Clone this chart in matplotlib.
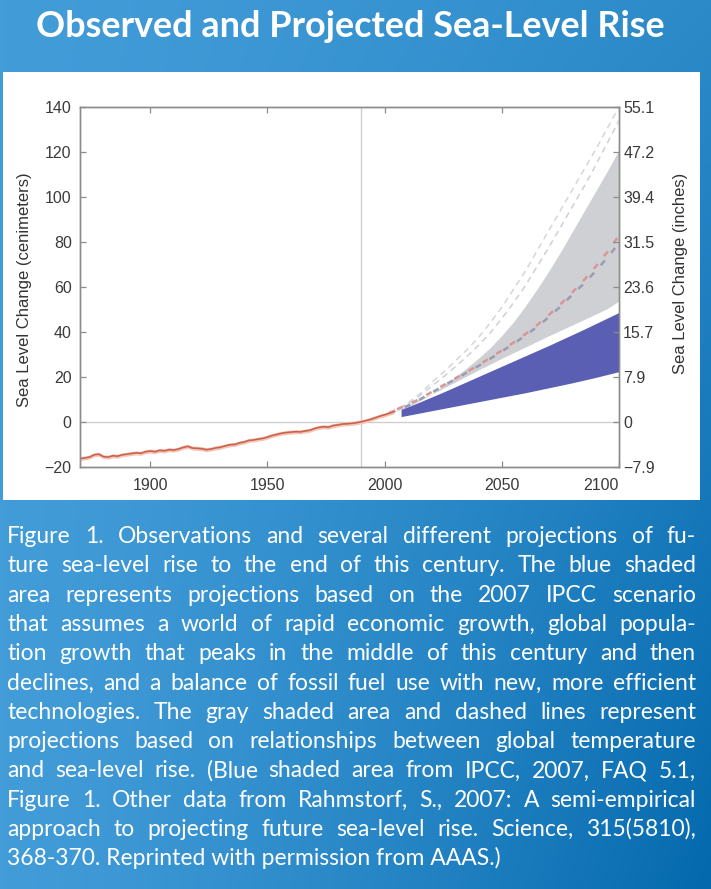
import matplotlib.pyplot as plt
import numpy as np
from matplotlib.patches import Rectangle

# Observed sea level change (cm)
obs_years = list(range(1870, 2005, 2))
obs_cm = [-16.2, -16.0, -15.6, -14.6, -14.3, -15.4, -15.6, -15.0, -15.2, -14.6,
          -14.3, -14.0, -13.7, -13.9, -13.2, -12.9, -13.2, -12.6, -12.8, -12.3,
          -12.5, -12.0, -11.3, -10.8, -11.6, -11.7, -11.9, -12.3, -12.0, -11.5,
          -11.2, -10.6, -10.1, -10.0, -9.3, -8.9, -8.2, -8.0, -7.6, -7.3,
          -6.7, -6.0, -5.5, -5.0, -4.7, -4.5, -4.3, -4.4, -4.0, -3.7,
          -2.9, -2.4, -2.1, -2.3, -1.6, -1.3, -0.9, -0.8, -0.6, -0.3,
          0.1, 0.6, 1.2, 1.9, 2.6, 3.2, 3.9, 4.6]

# Semi-empirical projections (cm)
proj_years = [2002, 2005, 2010, 2015, 2020, 2025, 2030, 2035, 2040, 2045, 2050,
              2055, 2060, 2065, 2070, 2075, 2080, 2085, 2090, 2095, 2100]
gray_upper = [4.0, 5.0, 7.5, 10.2, 12.5, 16.2, 20.0, 24.0, 28.3, 33.0, 38.5,
              44.5, 51.5, 59.0, 67.0, 75.5, 84.5, 93.5, 102.5, 111.5, 121.0]
gray_lower = [3.8, 4.8, 6.8, 9.5, 12.3, 15.0, 17.7, 20.4, 23.1, 25.7, 28.3,
              30.8, 33.3, 35.8, 38.3, 40.7, 43.1, 45.5, 47.9, 50.4, 53.8]
dash_outer_a = [4.3, 5.5, 8.5, 12.5, 17.5, 22.0, 27.0, 32.0, 37.5, 44.0, 51.0,
                59.0, 67.0, 76.0, 85.0, 94.0, 103.0, 112.0, 121.0, 130.5, 140.0]
dash_outer_b = [4.2, 5.3, 8.0, 11.8, 15.8, 20.0, 24.4, 29.0, 34.0, 39.5, 46.0,
                53.0, 60.5, 69.0, 77.5, 86.5, 95.5, 104.5, 114.0, 124.0, 134.0]
dash_mid_red = [4.3, 5.6, 7.6, 10.3, 13.3, 16.3, 19.3, 22.2, 25.2, 28.5, 31.8,
                35.3, 39.0, 43.0, 47.5, 52.3, 57.5, 63.0, 69.0, 75.5, 83.0]
dash_mid_gray = [4.1, 5.3, 7.3, 10.0, 13.0, 16.0, 19.0, 21.9, 24.9, 28.1, 31.4,
                 34.8, 38.4, 42.3, 46.6, 51.3, 56.5, 61.5, 67.0, 73.0, 79.5]

# IPCC 2007 A1B range (cm)
blue_years = [2007, 2010, 2015, 2020, 2025, 2030, 2035, 2040, 2045, 2050,
              2055, 2060, 2065, 2070, 2075, 2080, 2085, 2090, 2095, 2100]
blue_upper = [5.6, 6.8, 8.9, 11.1, 13.3, 15.6, 17.9, 20.2, 22.5, 24.8,
              27.1, 29.4, 31.7, 34.0, 36.4, 38.8, 41.2, 43.7, 46.2, 48.7]
blue_lower = [2.4, 3.0, 4.0, 5.0, 6.0, 7.0, 8.0, 9.0, 10.0, 11.0,
              12.0, 13.0, 14.1, 15.2, 16.3, 17.4, 18.6, 19.8, 21.1, 22.4]

cm_ticks = [-20, 0, 20, 40, 60, 80, 100, 120, 140]
year_ticks = [1900, 1950, 2000, 2050, 2100]

title = "Observed and Projected Sea-Level Rise"
caption = [
    "Figure 1. Observations and several different projections of fu-",
    "ture sea-level rise to the end of this century. The blue shaded",
    "area represents projections based on the 2007 IPCC scenario",
    "that assumes a world of rapid economic growth, global popula-",
    "tion growth that peaks in the middle of this century and then",
    "declines, and a balance of fossil fuel use with new, more efficient",
    "technologies. The gray shaded area and dashed lines represent",
    "projections based on relationships between global temperature",
    "and sea-level rise. (Blue shaded area from IPCC, 2007, FAQ 5.1,",
    "Figure 1. Other data from Rahmstorf, S., 2007: A semi-empirical",
    "approach to projecting future sea-level rise. Science, 315(5810),",
    "368-370. Reprinted with permission from AAAS.)",
]

W, H = 711, 889
fig = plt.figure(figsize=(W / 100, H / 100), dpi=100)

# blue gradient background
yy, xx = np.mgrid[0:1:200j, 0:1:200j]
t = np.clip(xx ** 1.3 * (0.35 + 0.65 * yy), 0, 1)[..., None]
c0 = np.array([0x42, 0x9c, 0xd8]) / 255
c1 = np.array([0x04, 0x69, 0xad]) / 255
bg = c0 * (1 - t) + c1 * t
ax_bg = fig.add_axes([0, 0, 1, 1], zorder=-10)
ax_bg.imshow(bg, extent=[0, 1, 0, 1], aspect="auto", origin="upper")
ax_bg.axis("off")

# white panel behind the chart
fig.patches.append(Rectangle((3 / W, 1 - 500 / H), 697 / W, 428 / H,
                             transform=fig.transFigure, facecolor="white",
                             edgecolor="none", zorder=-5))

ax = fig.add_axes([80 / W, 1 - 467 / H, 539 / W, 360 / H])
ax.set_facecolor("white")

ax.axhline(0, color="#cfcfcf", lw=1, zorder=1)
ax.axvline(1990, color="#cfcfcf", lw=1, zorder=1)

ax.fill_between(proj_years, gray_lower, gray_upper, color="#cfd0d3", lw=0, zorder=2)
ax.plot(proj_years, dash_outer_a, color="#d6d6d8", lw=1.1, ls=(0, (4, 3)), zorder=3)
ax.plot(proj_years, dash_outer_b, color="#d0d0d3", lw=1.1, ls=(0, (4, 3)), zorder=3)
ax.plot(proj_years, dash_mid_gray, color="#9c9cb0", lw=1.8, ls=(0, (2.5, 4)), zorder=3)
ax.plot(proj_years, dash_mid_red, color="#d8969a", lw=1.8, ls=(3.2, (2.5, 4)), zorder=3)
ax.fill_between(blue_years, blue_lower, blue_upper, color="#5a5fb4", lw=0, zorder=4)

obs = np.array(obs_cm)
ax.fill_between(obs_years, obs - 0.9, obs + 0.9, color="#f3c6b8", lw=0, zorder=5)
ax.plot(obs_years, obs_cm, color="#cc624c", lw=1.2, zorder=6)

ax.set_xlim(1870, 2100)
ax.set_ylim(-20, 140)
ax.set_xticks(year_ticks)
ax.set_yticks(cm_ticks)
ax.set_yticklabels([str(v).replace("-", "\u2212") for v in cm_ticks])
ax.get_xticklabels()[-1].set_horizontalalignment("right")

ax2 = ax.twinx()
ax2.set_ylim(-20, 140)
ax2.set_yticks(cm_ticks)
ax2.set_yticklabels(["0" if v == 0 else f"{v / 2.54:.1f}".replace("-", "\u2212")
                     for v in cm_ticks])

for a in (ax, ax2):
    for s in a.spines.values():
        s.set_color("#8c8c8c")
        s.set_linewidth(1.0)
    for lab in a.get_xticklabels() + a.get_yticklabels():
        lab.set_fontfamily("Liberation Sans")
ax.tick_params(axis="both", direction="in", length=4, width=0.9, color="#8c8c8c",
               labelsize=11.5, labelcolor="#3a3a3a", top=True)
ax.tick_params(axis="y", pad=6)
ax.tick_params(axis="x", pad=8)
ax2.tick_params(axis="y", direction="in", length=4, width=0.9, color="#8c8c8c",
                labelsize=11.5, labelcolor="#3a3a3a", pad=3)

fig.text(24.5 / W, 1 - 290 / H, "Sea Level Change (cenimeters)", rotation=90,
         ha="center", va="center", fontsize=12, color="#333333",
         family="Liberation Sans")
fig.text(680 / W, 1 - 273 / H, "Sea Level Change (inches)", rotation=90,
         ha="center", va="center", fontsize=12, color="#333333",
         family="Liberation Sans")

renderer = fig.canvas.get_renderer()

# title fitted to its width in the reference
tt = fig.text(350 / W, 1 - 37 / H, title, ha="center", va="baseline",
              fontsize=24, color="white", family="Lato", fontweight="bold")
w = tt.get_window_extent(renderer).width
tt.set_fontsize(min(28, 24 * 628 / w))

# justified caption
cap_family = "Lato"
left, right = 7, 696
probe = fig.text(0, 0, "", fontsize=16, family=cap_family)
widths = []
for line in caption:
    probe.set_text(line)
    widths.append(probe.get_window_extent(renderer).width)
cap_size = min(16.5, 16 * (right - left - 2) / max(widths))
probe.remove()

for i, line in enumerate(caption):
    y = 1 - (543 + i * 29.3) / H
    words = line.split(" ")
    if i == len(caption) - 1:
        fig.text(left / W, y, line, fontsize=cap_size, family=cap_family,
                 color="white", va="baseline")
        continue
    objs, total = [], 0
    for wd in words:
        o = fig.text(0, y, wd, fontsize=cap_size, family=cap_family,
                     color="white", va="baseline")
        objs.append(o)
        total += o.get_window_extent(renderer).width
    gap = (right - left - total) / (len(words) - 1)
    x = left
    for o in objs:
        o.set_x(x / W)
        x += o.get_window_extent(renderer).width + gap

fig.savefig("out.png", dpi=100)
